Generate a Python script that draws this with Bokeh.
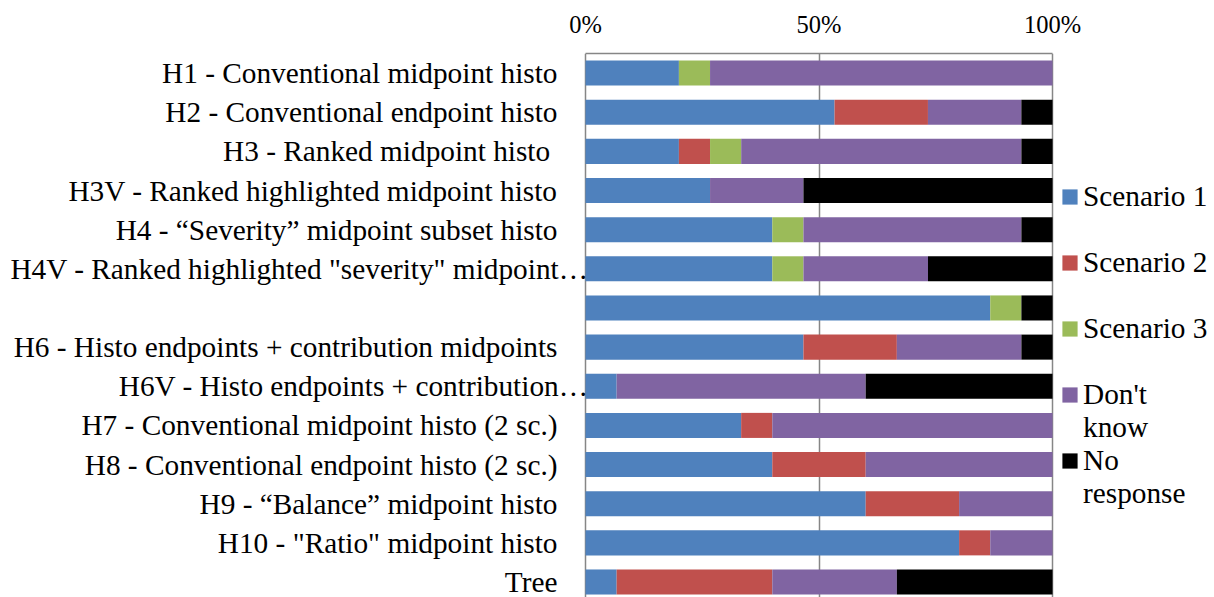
from bokeh.plotting import figure
from bokeh.models import (ColumnDataSource, Range1d, FixedTicker, Legend, LegendItem, LabelSet)
from bokeh.embed import file_html
from bokeh.resources import INLINE

# ---- data (percent of respondents) ----
categories = [
    "H1 - Conventional midpoint histo",
    "H2 - Conventional endpoint histo",
    "H3 - Ranked midpoint histo ",
    "H3V - Ranked highlighted midpoint histo",
    "H4 - \u201cSeverity\u201d midpoint subset histo",
    "H4V - Ranked highlighted \"severity\" midpoint\u2026",
    "",
    "H6 - Histo endpoints + contribution midpoints",
    "H6V - Histo endpoints + contribution\u2026",
    "H7 - Conventional midpoint histo (2 sc.)",
    "H8 - Conventional endpoint histo (2 sc.)",
    "H9 - \u201cBalance\u201d midpoint histo",
    "H10 - \"Ratio\" midpoint histo",
    "Tree",
]
scenario1   = [20.0, 53.33, 20.0, 26.67, 40.0, 40.0, 86.67, 46.67, 6.67, 33.33, 40.0, 60.0, 80.0, 6.67]
scenario2   = [0.0, 20.0, 6.67, 0.0, 0.0, 0.0, 0.0, 20.0, 0.0, 6.67, 20.0, 20.0, 6.67, 33.33]
scenario3   = [6.67, 0.0, 6.67, 0.0, 6.67, 6.67, 6.67, 0.0, 0.0, 0.0, 0.0, 0.0, 0.0, 0.0]
dont_know   = [73.33, 20.0, 60.0, 20.0, 46.67, 26.67, 0.0, 26.67, 53.33, 60.0, 40.0, 20.0, 13.33, 26.67]
no_response = [0.0, 6.67, 6.67, 53.33, 6.67, 26.67, 6.67, 6.67, 40.0, 0.0, 0.0, 0.0, 0.0, 33.33]

series_names = ["Scenario 1", "Scenario 2", "Scenario 3", "Don't\nknow", "No\nresponse"]
x_ticks = [0, 50, 100]
x_tick_labels = ["0%", "50%", "100%"]

colors = ["#4F81BD", "#C0504D", "#9BBB59", "#8064A2", "#000000"]
FONT = "Liberation Serif"
GRID = "#868686"

keys = ["s1", "s2", "s3", "dk", "nr"]
ypos = list(range(len(categories)))
source = ColumnDataSource(dict(y=ypos, cat=categories, s1=scenario1, s2=scenario2,
                               s3=scenario3, dk=dont_know, nr=no_response))

# frame spans the whole canvas; the 0..100 % area sits between x=585 and x=1052 px
W, H = 1214, 597
px_per_unit = 4.67
x_start = -585 / px_per_unit
x_end = (W - 585) / px_per_unit

p = figure(width=W, height=H,
           x_range=Range1d(x_start, x_end), y_range=Range1d(13.396, -0.5),
           x_axis_location="above", output_backend="svg", toolbar_location=None,
           min_border_left=0, min_border_right=0, min_border_top=53, min_border_bottom=0)

renderers = p.hbar_stack(keys, y="y", height=0.64, color=colors, line_color=None, source=source)

# axes
p.yaxis.visible = False
xa = p.xaxis[0]
xa.bounds = (0, 100)
xa.ticker = FixedTicker(ticks=x_ticks)
xa.major_label_overrides = {t: l for t, l in zip(x_ticks, x_tick_labels)}
xa.major_label_text_font = FONT
xa.major_label_text_font_size = "24.5px"
xa.major_label_text_color = "black"
xa.major_tick_out = 0
xa.major_tick_in = 0
xa.minor_tick_out = 0
xa.minor_tick_in = 0
xa.axis_line_color = GRID
xa.axis_line_width = 1.5
xa.major_label_standoff = 16

p.xgrid.ticker = FixedTicker(ticks=x_ticks)
p.xgrid.grid_line_color = GRID
p.xgrid.grid_line_width = 1.5
p.ygrid.grid_line_color = None
p.outline_line_color = None
p.background_fill_color = "white"
p.border_fill_color = "white"

# category labels (Excel-like: truncated labels run up to the axis)
normal = [i for i, c in enumerate(categories) if not c.endswith("\u2026")]
trunc = [i for i, c in enumerate(categories) if c.endswith("\u2026")]
for idx, off in ((normal, -28), (trunc, 3)):
    src = ColumnDataSource(dict(x=[0] * len(idx), y=[ypos[i] for i in idx],
                                t=[categories[i] for i in idx]))
    p.add_layout(LabelSet(x="x", y="y", text="t", source=src, x_offset=off,
                          text_align="right", text_baseline="middle",
                          text_font=FONT, text_font_size="29.3px", text_color="black"))

# legend: entries 66 px apart; two-line entries keep their first line level with the swatch
def make_legend(items, label_height, y_loc):
    return Legend(items=items, location=(1060, y_loc), padding=0, margin=0, spacing=0,
                  glyph_width=19, glyph_height=19, label_standoff=4,
                  label_height=label_height, label_text_line_height=1.15,
                  label_text_font=FONT, label_text_font_size="29.3px",
                  label_text_color="black",
                  border_line_color=None, background_fill_alpha=0)

single = [LegendItem(label=n, renderers=[r]) for n, r in zip(series_names, renderers) if "\n" not in n]
p.add_layout(make_legend(single, 66, 236), "center")
multi = [(n, r) for n, r in zip(series_names, renderers) if "\n" in n]
for (n, r), y_loc in zip(multi, (153, 87)):
    p.add_layout(make_legend([LegendItem(label="\n" + n, renderers=[r])], 99, y_loc), "center")

open("out.html", "w").write(file_html(p, INLINE))
